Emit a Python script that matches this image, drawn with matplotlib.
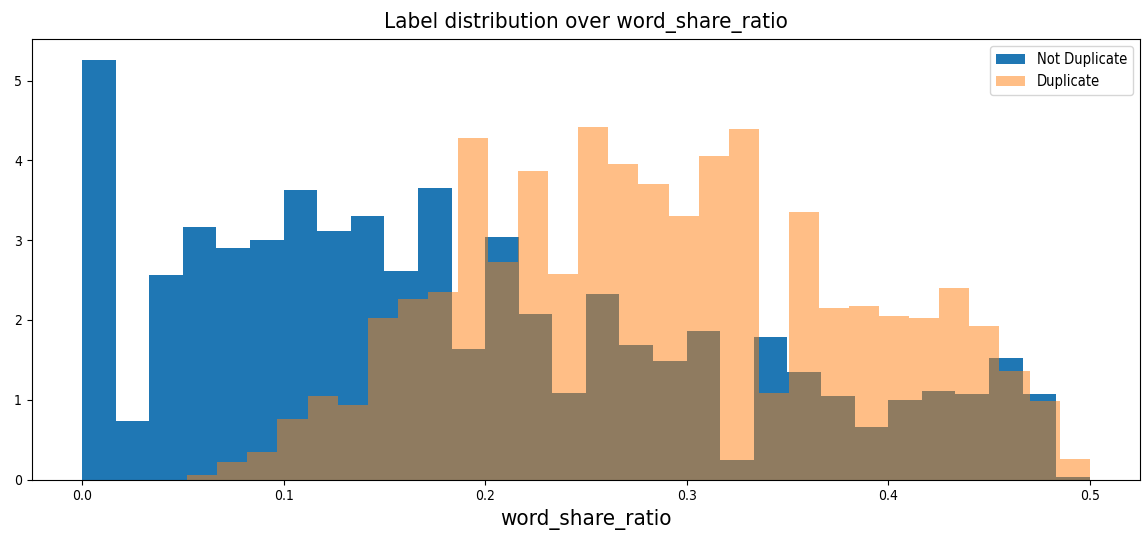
import numpy as np
from matplotlib import pyplot as plt

# densidades por bin (30 bins cada uno) para cada etiqueta
not_dup_range = (0.0, 0.5)
not_dup_density = [5.26, 0.73, 2.57, 3.16, 2.90, 3.00, 3.63, 3.12, 3.31, 2.62,
                   3.66, 1.64, 3.04, 2.08, 1.09, 2.32, 1.69, 1.48, 1.86, 0.24,
                   1.79, 1.35, 1.05, 0.66, 1.00, 1.11, 1.07, 1.52, 1.07, 0.03]

dup_range = (0.0522, 0.5)
dup_density = [0.06, 0.22, 0.34, 0.76, 1.05, 0.94, 2.03, 2.26, 2.35, 4.28,
               2.73, 3.87, 2.58, 4.42, 3.95, 3.71, 3.31, 4.06, 4.40, 1.08,
               3.35, 2.15, 2.17, 2.05, 2.03, 2.40, 1.92, 1.36, 0.99, 0.26]

plt.rcParams['font.family'] = ['DejaVu Sans']
plt.rcParams['font.stretch'] = 'condensed'

fig = plt.figure(figsize=(11.47, 5.42), dpi=100)
ax = fig.add_axes([0.0276, 0.1153, 0.9664, 0.8127])

bins_nd = np.linspace(not_dup_range[0], not_dup_range[1], len(not_dup_density) + 1)
bins_d = np.linspace(dup_range[0], dup_range[1], len(dup_density) + 1)
centros_nd = (bins_nd[:-1] + bins_nd[1:]) / 2
centros_d = (bins_d[:-1] + bins_d[1:]) / 2

ax.hist(centros_nd, bins=bins_nd, weights=not_dup_density, color='C0', label='Not Duplicate')
ax.hist(centros_d, bins=bins_d, weights=dup_density, color='C1', alpha=0.5, label='Duplicate')

ax.legend(loc='upper right', fontsize=10.5)
ax.set_title('Label distribution over word_share_ratio', fontsize=16, pad=8)
ax.set_xlabel('word_share_ratio', fontsize=16)
ax.tick_params(labelsize=10)

fig.savefig('out.png', dpi=100)
